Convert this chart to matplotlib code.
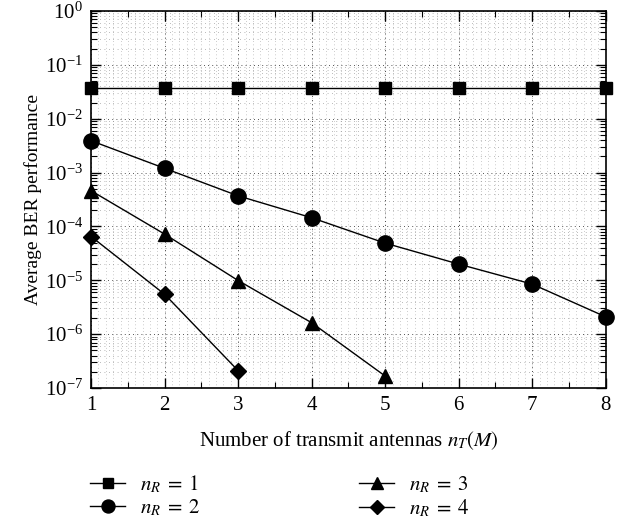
import numpy as np
import matplotlib
matplotlib.use("Agg")
import matplotlib.pyplot as plt
from matplotlib.ticker import MultipleLocator, LogLocator, NullFormatter

plt.rcParams["font.family"] = ["Liberation Serif", "DejaVu Serif"]
plt.rcParams["mathtext.fontset"] = "stix"

# datos
n_t = [1, 2, 3, 4, 5, 6, 7, 8]
ber_nr1 = [3.7e-2, 3.7e-2, 3.7e-2, 3.7e-2, 3.7e-2, 3.7e-2, 3.7e-2, 3.7e-2]
ber_nr2 = [3.9e-3, 1.2e-3, 3.7e-4, 1.45e-4, 4.9e-5, 2.0e-5, 8.5e-6, 2.1e-6]
ber_nr3 = [4.6e-4, 7.2e-5, 9.9e-6, 1.63e-6, 1.67e-7]
ber_nr4 = [6.5e-5, 5.5e-6, 2.1e-7]

series = [
    (r"$n_R\;=\;1$", ber_nr1, "s", 8),
    (r"$n_R\;=\;2$", ber_nr2, "o", 11),
    (r"$n_R\;=\;3$", ber_nr3, "^", 10),
    (r"$n_R\;=\;4$", ber_nr4, "D", 8),
]

fig = plt.figure(figsize=(6.2, 5.23), dpi=100)
ax = fig.add_axes([0.147, 0.258, 0.830, 0.721])

for etiqueta, valores, marcador, tam in series:
    ax.semilogy(n_t[:len(valores)], valores, color="black", lw=1.0,
                marker=marcador, markersize=tam, label=etiqueta, clip_on=False,
                zorder=3)

ax.set_xlim(1, 8)
ax.set_ylim(1e-7, 1e0)
ax.xaxis.set_major_locator(MultipleLocator(1))
ax.xaxis.set_minor_locator(MultipleLocator(0.5))
ax.yaxis.set_major_locator(LogLocator(base=10, numticks=10))
ax.yaxis.set_minor_locator(LogLocator(base=10, subs=np.arange(2, 10), numticks=20))
ax.yaxis.set_minor_formatter(NullFormatter())

ax.tick_params(which="both", direction="in", top=True, right=True, labelsize=15)
ax.tick_params(which="major", length=7, width=1.0, pad=6)
ax.tick_params(which="minor", length=4, width=0.8)
for s in ax.spines.values():
    s.set_linewidth(1.2)

# grilla punteada
ax.grid(True, which="major", axis="both", color="0.1", lw=0.6, ls=(0, (1, 4)))
ax.grid(True, which="minor", axis="y", color="0.35", lw=0.45, ls=(0, (1, 6)))
for xv in np.arange(1.1, 8.0, 0.1):
    ax.axvline(xv, color="0.4", lw=0.4, ls=(0, (1, 5)), zorder=0)

ax.set_xlabel(r"Number of transmit antennas $n_T(M)$", fontsize=15, labelpad=10)
ax.set_ylabel("Average BER performance", fontsize=14, labelpad=2)

fig.legend(loc="upper left", bbox_to_anchor=(0.145, 0.095), ncol=2, frameon=False,
           fontsize=15, columnspacing=7.6, handlelength=1.7, labelspacing=0.12,
           handletextpad=0.7, markerscale=0.85, borderpad=0, borderaxespad=0)

fig.savefig("out.png", dpi=100)
